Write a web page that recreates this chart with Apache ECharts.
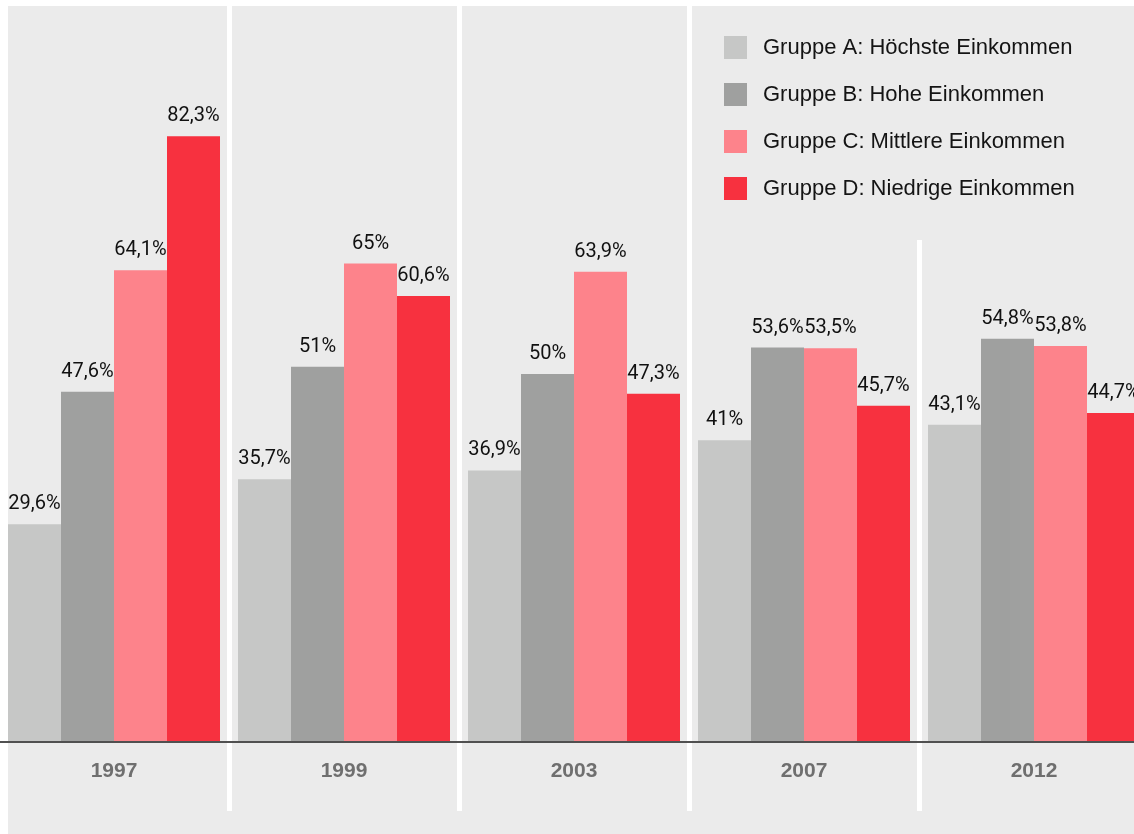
<!DOCTYPE html>
<html>
<head>
<meta charset="utf-8">
<script src="https://cdn.jsdelivr.net/npm/echarts@6/dist/echarts.min.js"></script>
<style>
  html, body { margin: 0; padding: 0; background: #ffffff; overflow: hidden; width: 1134px; height: 834px; }
  #panel { position: absolute; left: 8px; top: 6px; right: 0; bottom: 0; background: #ebebeb; }
  /* the plot spans one pixel past the left edge so the year bands line up with the panel */
  #chart { position: absolute; left: -1px; top: 6px; width: 1150px; height: 828px; }
</style>
</head>
<body>
<div id="panel"></div>
<div id="chart"></div>
<script>
// Survey years
const years = ['1997', '1999', '2003', '2007', '2012'];

// Share per income group, in percent
const gruppeA = [29.6, 35.7, 36.9, 41, 43.1];
const gruppeB = [47.6, 51, 50, 53.6, 54.8];
const gruppeC = [64.1, 65, 63.9, 53.5, 53.8];
const gruppeD = [82.3, 60.6, 47.3, 45.7, 44.7];

const seriesNames = [
  'Gruppe A: Höchste Einkommen',
  'Gruppe B: Hohe Einkommen',
  'Gruppe C: Mittlere Einkommen',
  'Gruppe D: Niedrige Einkommen'
];
const seriesColors = ['#c6c7c6', '#9fa09f', '#fd838b', '#f7313f'];
const seriesData = [gruppeA, gruppeB, gruppeC, gruppeD];

const fmt = v => String(v).replace('.', ',') + '%';

const chart = echarts.init(document.getElementById('chart'), null, { renderer: 'canvas' });

chart.setOption({
  animation: false,
  grid: [
    { left: 0, right: 0, top: 0, bottom: 92, outerBoundsMode: 'none' },
    { left: 0, right: 0, top: 0, bottom: 23, outerBoundsMode: 'none' }
  ],
  xAxis: [
    {
      type: 'category',
      gridIndex: 0,
      data: years,
      z: 3,
      axisLine: { show: true, lineStyle: { color: '#505050', width: 2 } },
      axisTick: { show: false },
      axisLabel: {
        color: '#6f6f6f',
        fontSize: 21,
        fontWeight: 'bold',
        fontFamily: "'Liberation Sans', Arial, sans-serif",
        margin: 19
      },
      splitLine: { show: false }
    },
    {
      // white dividers between the year groups
      type: 'category',
      gridIndex: 1,
      data: years,
      z: 0,
      axisLine: { show: false },
      axisTick: { show: false },
      axisLabel: { show: false },
      splitLine: { show: true, lineStyle: { color: '#ffffff', width: 5 } }
    }
  ],
  yAxis: [
    { type: 'value', gridIndex: 0, min: 0, max: 100, show: false },
    { type: 'value', gridIndex: 1, min: 0, max: 100, show: false }
  ],
  legend: {
    orient: 'vertical',
    left: 701,
    top: 0,
    padding: [30, 20, 40, 24],
    backgroundColor: '#ebebeb',
    itemWidth: 23,
    itemHeight: 23,
    itemGap: 24,
    icon: 'rect',
    data: seriesNames,
    textStyle: {
      color: '#141414',
      fontSize: 22,
      fontFamily: "'Liberation Sans', Arial, sans-serif",
      padding: [0, 0, 0, 11]
    }
  },
  series: seriesData.map((d, i) => ({
    name: seriesNames[i],
    type: 'bar',
    xAxisIndex: 0,
    yAxisIndex: 0,
    data: d,
    barWidth: 53,
    barGap: '0%',
    itemStyle: { color: seriesColors[i] },
    label: {
      show: true,
      position: 'top',
      distance: 10,
      color: '#111111',
      fontSize: 20,
      fontFamily: "Roboto, 'Liberation Sans', sans-serif",
      formatter: p => fmt(p.value)
    }
  }))
});
</script>
</body>
</html>
